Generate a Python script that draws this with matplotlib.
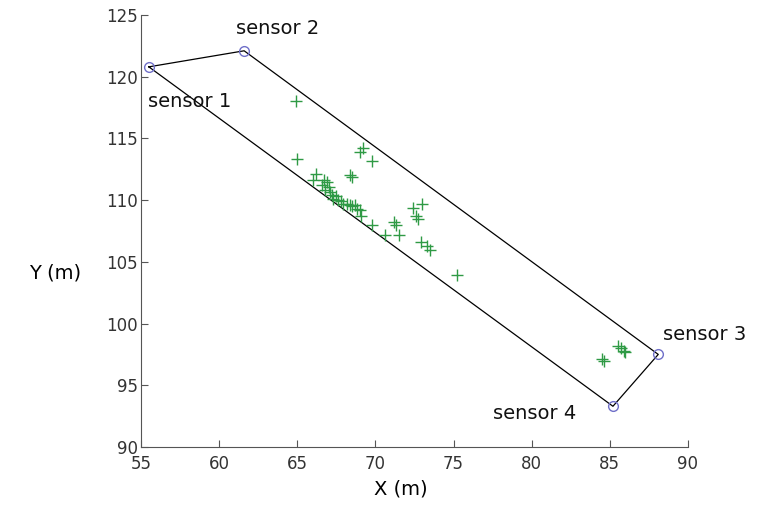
import matplotlib
matplotlib.use('Agg')
import matplotlib.pyplot as plt

# sensor corners (m)
sensor_names = ['sensor 1', 'sensor 2', 'sensor 3', 'sensor 4']
sensor_x = [55.5, 61.6, 88.1, 85.2]
sensor_y = [120.8, 122.1, 97.5, 93.3]

# detected positions (m)
pts_x = [64.9, 65.0, 69.0, 69.2, 69.8, 68.4, 68.5, 66.2, 66.0,
         66.7, 66.9, 66.6, 67.0, 66.8, 67.1, 67.2, 67.3, 67.5, 67.6,
         67.8, 67.9, 68.2, 68.4, 68.5, 68.7, 68.8, 69.0, 69.1,
         69.8, 71.2, 71.3, 70.6, 71.5, 72.4, 73.0, 72.6, 72.7,
         72.9, 73.3, 73.5, 75.2,
         84.5, 84.6, 85.7, 85.9, 85.5, 86.0]
pts_y = [118.0, 113.3, 113.9, 114.2, 113.2, 112.0, 111.9, 112.1, 111.6,
         111.6, 111.5, 111.2, 111.1, 110.8, 110.7, 110.4, 110.1, 110.3, 110.0,
         109.9, 109.7, 109.7, 109.6, 109.5, 109.6, 109.3, 109.2, 108.7,
         108.0, 108.2, 108.0, 107.2, 107.2, 109.4, 109.7, 108.7, 108.5,
         106.6, 106.3, 106.0, 103.9,
         97.1, 97.0, 98.0, 97.8, 98.2, 97.7]

fig = plt.figure(figsize=(7.61, 5.30), dpi=100)
ax = fig.add_axes([0.1853, 0.1566, 0.7187, 0.8151])

# rectangle between sensors
ax.plot(sensor_x + sensor_x[:1], sensor_y + sensor_y[:1], color='black', lw=0.9)
ax.plot(sensor_x, sensor_y, 'o', mfc='none', mec='#6f6fc8', ms=7, mew=1.0)
ax.plot(pts_x, pts_y, '+', color='#2f9a45', ms=9, mew=1.0)

label_pos = [(55.45, 118.0), (61.1, 123.9), (88.4, 99.1), (77.5, 92.75)]
for name, (lx, ly) in zip(sensor_names, label_pos):
    ax.text(lx, ly, name, fontsize=14, ha='left', va='center', color='#111111')

ax.set_xlim(55, 90)
ax.set_ylim(90, 125)
ax.set_xticks(range(55, 91, 5))
ax.set_yticks(range(90, 126, 5))
ax.spines['top'].set_visible(False)
ax.spines['right'].set_visible(False)
for s in ['left', 'bottom']:
    ax.spines[s].set_color('#555555')
ax.tick_params(direction='in', length=5, color='#555555', labelcolor='#333333',
               labelsize=12, pad=2)
ax.tick_params(axis='x', pad=6)
for lab in ax.get_xticklabels() + ax.get_yticklabels():
    lab.set_family(['Liberation Sans Narrow', 'DejaVu Sans'])

fig.text(0.072, 0.485, 'Y (m)', fontsize=14, ha='center', va='center')
fig.text(0.527, 0.078, 'X (m)', fontsize=14, ha='center', va='center')

fig.savefig('out.png', dpi=100)
